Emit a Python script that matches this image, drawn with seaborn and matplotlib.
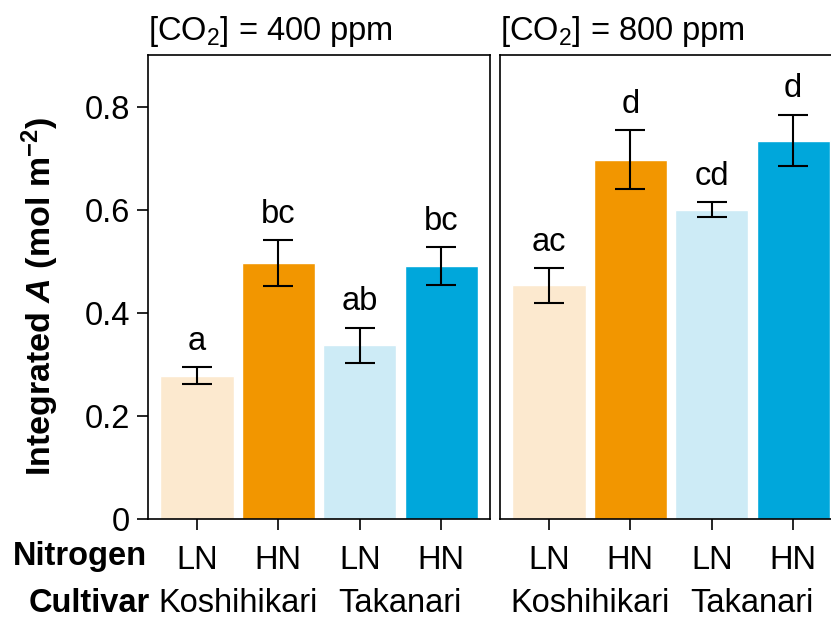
import numpy as np
import pandas as pd
import matplotlib
matplotlib.use("Agg")
import matplotlib.pyplot as plt
import seaborn as sns

# Données (moyenne +/- erreur standard)
cultivar = ["Koshihikari", "Koshihikari", "Takanari", "Takanari"]
nitrogen = ["LN", "HN", "LN", "HN"]
mean_400 = [0.278, 0.496, 0.337, 0.490]
se_400 = [0.017, 0.045, 0.034, 0.037]
mean_800 = [0.453, 0.697, 0.600, 0.734]
se_800 = [0.034, 0.057, 0.014, 0.050]
letters_400 = ["a", "bc", "ab", "bc"]
letters_800 = ["ac", "d", "cd", "d"]
panel_titles = [r"[CO$_\mathrm{2}$] = 400 ppm", r"[CO$_\mathrm{2}$] = 800 ppm"]
yticks = [0, 0.2, 0.4, 0.6, 0.8]
ytick_labels = ["0", "0.2", "0.4", "0.6", "0.8"]
colors = ["#FCE9CF", "#F29600", "#CDEBF6", "#00A7DB"]

sns.set_style("white")
plt.rcParams["font.family"] = ["Liberation Sans", "DejaVu Sans"]
plt.rcParams["mathtext.fontset"] = "custom"
plt.rcParams["mathtext.rm"] = "Liberation Sans"
plt.rcParams["mathtext.it"] = "Liberation Sans:italic:bold"
plt.rcParams["mathtext.bf"] = "Liberation Sans:bold"
for k in ["text.color", "axes.labelcolor", "xtick.color", "ytick.color"]:
    plt.rcParams[k] = "black"

FS = 23.5

fig = plt.figure(figsize=(8.31, 6.2), dpi=100)
ax_l = fig.add_axes([148 / 831, 101 / 620, 342 / 831, 464 / 620])
ax_r = fig.add_axes([500 / 831, 101 / 620, 342 / 831, 464 / 620])

for ax, means, ses, letters, title in [
    (ax_l, mean_400, se_400, letters_400, panel_titles[0]),
    (ax_r, mean_800, se_800, letters_800, panel_titles[1]),
]:
    df = pd.DataFrame({
        "group": [f"{c} {n}" for c, n in zip(cultivar, nitrogen)],
        "mean": means,
    })
    sns.barplot(data=df, x="group", y="mean", hue="group", palette=colors,
                legend=False, width=0.9, saturation=1, ax=ax)
    x = np.arange(len(means))
    ax.errorbar(x, means, yerr=ses, fmt="none", ecolor="black",
                elinewidth=1.5, capsize=11, capthick=1.5)
    for xi, m, s, lab in zip(x, means, ses, letters):
        ax.text(xi, m + s + 0.02, lab, ha="center", va="bottom", fontsize=FS)

    ax.set_xlim(-0.6, 3.6)
    ax.set_ylim(0, 0.9)
    ax.set_xlabel("")
    ax.set_ylabel("")
    ax.set_xticks(x)
    ax.set_xticklabels(nitrogen, fontsize=FS)
    ax.tick_params(axis="x", direction="out", length=8, width=1.2,
                   pad=11, bottom=True)
    for sp in ax.spines.values():
        sp.set_visible(True)
        sp.set_color("black")
        sp.set_linewidth(1.2)
    ax.set_title(title, loc="left", fontsize=FS, pad=11)

    # noms des cultivars sous les étiquettes LN / HN
    for xc, name in [(0.5, cultivar[0]), (2.5, cultivar[2])]:
        ax.text(xc, -0.183, name, ha="center", va="center", fontsize=FS,
                transform=ax.get_xaxis_transform())

ax_l.set_yticks(yticks)
ax_l.set_yticklabels(ytick_labels, fontsize=FS)
ax_l.tick_params(axis="y", direction="out", length=8, width=1.2, pad=5,
                 left=True)
ax_r.set_yticks([])

fig.text(40 / 831, 1 - 296 / 620, r"Integrated $\mathit{A}$ (mol m$^{\mathbf{-2}}$)",
         rotation=90, ha="center", va="center", fontsize=24.5, fontweight="bold")
fig.text(147 / 831, 1 - 556 / 620, "Nitrogen", ha="right", va="center",
         fontsize=FS, fontweight="bold")
fig.text(150 / 831, 1 - 604 / 620, "Cultivar", ha="right", va="center",
         fontsize=FS, fontweight="bold")

fig.savefig("out.png", dpi=100)
